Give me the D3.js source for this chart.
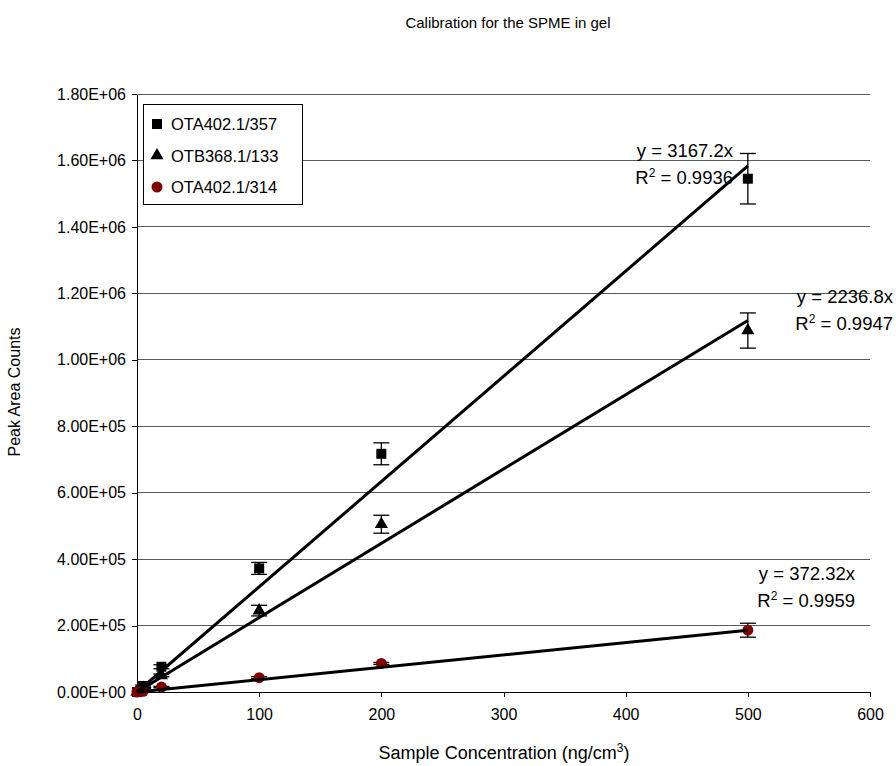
<!DOCTYPE html>
<html>
<head>
<meta charset="utf-8">
<script src="https://cdn.jsdelivr.net/npm/d3@7"></script>
<style>
  html, body { margin: 0; padding: 0; background: #fff; }
  svg { display: block; font-family: "Liberation Sans", Arial, sans-serif; }
</style>
</head>
<body>
<svg id="chart" width="896" height="766"></svg>
<script>
// Sample concentrations (ng/cm3)
const concentrations = [0, 5, 20, 100, 200, 500];

// Peak area counts per compound and their error bar half-widths
const seriesNames = ["OTA402.1/357", "OTB368.1/133", "OTA402.1/314"];
const ota357 = [0, 18000, 76000, 372000, 717000, 1545000];
const ota357Err = [0, 3000, 6000, 18000, 33000, 76000];
const otb133 = [0, 12000, 50000, 245000, 505000, 1088000];
const otb133Err = [0, 2000, 4000, 16000, 27000, 53000];
const ota314 = [0, 2000, 15000, 43000, 86000, 186000];
const ota314Err = [0, 1000, 2000, 3000, 3000, 21000];

// Linear fits through the origin
const slopes = [3167.2, 2236.8, 372.32];
const fitLabels = ["y = 3167.2x", "y = 2236.8x", "y = 372.32x"];
const r2Values = ["0.9936", "0.9947", "0.9959"];

// Axis ticks
const xTicks = [0, 100, 200, 300, 400, 500, 600];
const yTicks = [0, 200000, 400000, 600000, 800000, 1000000, 1200000, 1400000, 1600000, 1800000];
const yTickLabels = ["0.00E+00", "2.00E+05", "4.00E+05", "6.00E+05", "8.00E+05",
                     "1.00E+06", "1.20E+06", "1.40E+06", "1.60E+06", "1.80E+06"];

const svg = d3.select("#chart");
const plot = { left: 137, right: 870, top: 94, bottom: 692 };

const x = d3.scaleLinear().domain([0, 600]).range([plot.left, plot.right]);
const y = d3.scaleLinear().domain([0, 1800000]).range([plot.bottom, plot.top]);

// Title
svg.append("text")
  .attr("x", 508).attr("y", 28)
  .attr("text-anchor", "middle")
  .attr("font-size", 15)
  .text("Calibration for the SPME in gel");

// Horizontal gridlines
svg.append("g")
  .selectAll("line")
  .data(yTicks.filter(d => d > 0))
  .join("line")
  .attr("x1", plot.left).attr("x2", plot.right)
  .attr("y1", d => y(d)).attr("y2", d => y(d))
  .attr("stroke", "#5a5a5a").attr("stroke-width", 1)
  .attr("shape-rendering", "crispEdges");

// Axes
const xAxis = d3.axisBottom(x).tickValues(xTicks).tickSize(5).tickSizeOuter(0).tickPadding(12);
const gx = svg.append("g")
  .attr("transform", `translate(0,${plot.bottom})`)
  .call(xAxis);
const yAxis = d3.axisLeft(y).tickValues(yTicks).tickSize(5).tickSizeOuter(0).tickPadding(6)
  .tickFormat((d, i) => yTickLabels[i]);
const gy = svg.append("g")
  .attr("transform", `translate(${plot.left},0)`)
  .call(yAxis);

[gx, gy].forEach(g => {
  g.select(".domain").attr("stroke", "#000").attr("shape-rendering", "crispEdges");
  g.selectAll(".tick line").attr("stroke", "#000").attr("shape-rendering", "crispEdges");
  g.selectAll(".tick text").attr("font-size", 16).attr("fill", "#000")
    .attr("font-family", "'Liberation Sans', Arial, sans-serif");
});

// Axis titles
const xt = svg.append("text")
  .attr("x", 504).attr("y", 759)
  .attr("text-anchor", "middle")
  .attr("font-size", 18);
xt.append("tspan").text("Sample Concentration (ng/cm");
xt.append("tspan").attr("font-size", 12).attr("dy", -7).text("3");
xt.append("tspan").attr("dy", 7).text(")");

svg.append("text")
  .attr("transform", `translate(20,392) rotate(-90)`)
  .attr("text-anchor", "middle")
  .attr("font-size", 16)
  .text("Peak Area Counts");

// Series definitions
const series = [
  { name: seriesNames[0], values: ota357, errors: ota357Err, shape: "square", color: "#000" },
  { name: seriesNames[1], values: otb133, errors: otb133Err, shape: "triangle", color: "#000" },
  { name: seriesNames[2], values: ota314, errors: ota314Err, shape: "circle", color: "#800000" }
];

const symbolFor = s => s === "square" ? d3.symbol(d3.symbolSquare, 100)
  : s === "triangle" ? d3.symbol(d3.symbolTriangle, 75)
  : d3.symbol(d3.symbolCircle, 95);

// Error bars
series.forEach(s => {
  const g = svg.append("g").attr("stroke", "#000").attr("stroke-width", 1.3);
  concentrations.forEach((c, i) => {
    const e = s.errors[i];
    if (!e) return;
    const cx = x(c), yt = y(s.values[i] + e), yb = y(s.values[i] - e);
    g.append("line").attr("x1", cx).attr("x2", cx).attr("y1", yt).attr("y2", yb);
    g.append("line").attr("x1", cx - 8).attr("x2", cx + 8).attr("y1", yt).attr("y2", yt);
    g.append("line").attr("x1", cx - 8).attr("x2", cx + 8).attr("y1", yb).attr("y2", yb);
  });
});

// Markers
series.forEach(s => {
  svg.append("g")
    .selectAll("path")
    .data(concentrations.map((c, i) => [c, s.values[i]]))
    .join("path")
    .attr("d", symbolFor(s.shape))
    .attr("transform", d => `translate(${x(d[0])},${y(d[1])})`)
    .attr("fill", s.color);
});

// Trend lines through the origin up to the highest concentration
const xMax = d3.max(concentrations);
svg.append("g")
  .selectAll("line")
  .data(slopes)
  .join("line")
  .attr("x1", x(0)).attr("y1", y(0))
  .attr("x2", x(xMax)).attr("y2", d => y(d * xMax))
  .attr("stroke", "#000").attr("stroke-width", 3);

// Fit equations
const eqPos = [
  { x: 733, y: 157 },
  { x: 893, y: 303 },
  { x: 855, y: 580 }
];
eqPos.forEach((p, i) => {
  svg.append("text")
    .attr("x", p.x).attr("y", p.y)
    .attr("text-anchor", "end").attr("font-size", 18.5)
    .text(fitLabels[i]);
  const r = svg.append("text")
    .attr("x", p.x).attr("y", p.y + 27)
    .attr("text-anchor", "end").attr("font-size", 18.5);
  r.append("tspan").text("R");
  r.append("tspan").attr("font-size", 12).attr("dy", -7).text("2");
  r.append("tspan").attr("dy", 7).text(" = " + r2Values[i]);
});

// Legend
const lg = svg.append("g");
lg.append("rect")
  .attr("x", 143.5).attr("y", 104.5).attr("width", 159).attr("height", 100)
  .attr("fill", "#fff").attr("stroke", "#000").attr("stroke-width", 1);
series.forEach((s, i) => {
  const cy = 124 + i * 31.5;
  lg.append("path")
    .attr("d", symbolFor(s.shape))
    .attr("transform", `translate(157,${cy})`)
    .attr("fill", s.color);
  lg.append("text")
    .attr("x", 171).attr("y", cy + 6)
    .attr("font-size", 16.5)
    .text(s.name);
});
</script>
</body>
</html>
